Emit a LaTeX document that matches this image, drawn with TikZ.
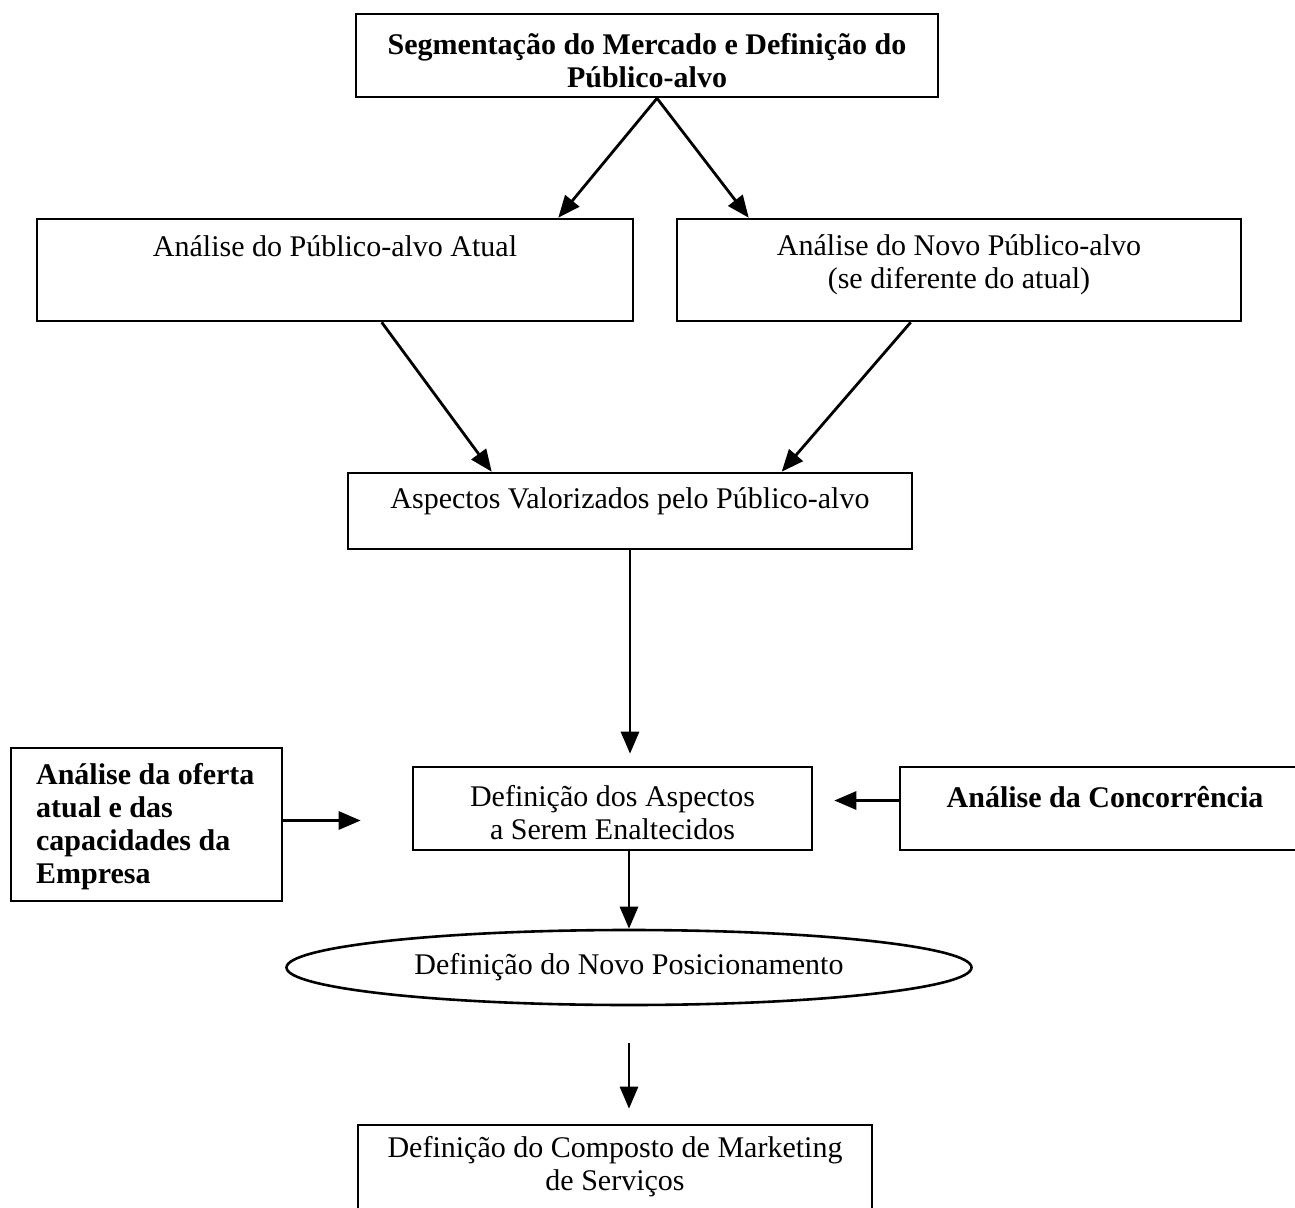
\documentclass[tikz,border=0pt]{standalone}
\usepackage{fontspec}
\setmainfont{Liberation Serif}
\usetikzlibrary{arrows.meta,calc,shapes.geometric}
\begin{document}
\begin{tikzpicture}[x=0.5pt,y=-0.5pt,
  frame/.style={draw, line width=1.3pt, inner sep=0pt},
  lbl/.style={align=center, inner sep=0pt, font=\fontsize{15}{16.5}\selectfont},
  blbl/.style={align=center, inner sep=0pt, font=\fontsize{15}{16.5}\selectfont\bfseries},
  link/.style={line width=1.4pt, -{Triangle[length=11pt,width=9pt]}}]
\clip (0,0) rectangle (1295,1208);
\fill[white] (0,0) rectangle (1295,1208);

% top box
\node[frame, minimum width=291pt, minimum height=41.5pt] (T) at (647,55.5) {};
\node[blbl] (Tt) at ($(T.center)+(0,5)$)
  {Segmentação do Mercado e Definição do\\Público-alvo};

% current and new target audience
\node[frame, minimum width=298pt, minimum height=51pt] (A) at (335,270) {};
\node[lbl] (At) at ($(A.north)+(0,29)$) {Análise do Público-alvo Atual};
\node[frame, minimum width=282pt, minimum height=51pt] (B) at (959,270) {};
\node[lbl] (Bt) at ($(B.north)+(0,47)$) {Análise do Novo Público-alvo\\(se diferente do atual)};

% valued aspects
\node[frame, minimum width=282pt, minimum height=38pt] (C) at (630,511) {};
\node[lbl] (Ct) at ($(C.north)+(0,30)$) {Aspectos Valorizados pelo Público-alvo};

% aspects to highlight, with its two inputs
\node[frame, minimum width=199.5pt, minimum height=41.5pt] (D) at (612.5,808.5) {};
\node[lbl] (Dt) at ($(D.center)+(0,4)$) {Definição dos Aspectos\\a Serem Enaltecidos};
\node[frame, minimum width=135.5pt, minimum height=76.5pt] (E) at (146.5,824.5) {};
\node[blbl, align=left, anchor=west] (Et) at ($(E.west)+(26,2)$)
  {Análise da oferta\\atual e das\\capacidades da\\Empresa};
\node[frame, minimum width=205pt, minimum height=41.5pt] (F) at (1105,808.5) {};
\node[blbl] (Ft) at ($(F.center)+(0,-11)$) {Análise da Concorrência};

% new positioning
\node[ellipse, frame, lbl, minimum width=342.5pt, minimum height=37.5pt] (N) at (629,967.5)
  {Definição do Novo Posicionamento};

% services marketing mix
\node[frame, minimum width=257pt, minimum height=67.5pt] (G) at (615,1192.5) {};
\node[lbl] (Gt) at ($(G.north)+(0,43)$) {Definição do Composto de Marketing\\de Serviços};

% connectors
\coordinate (ts) at ($(T.south)+(10,0)$);
\draw[link] (ts) -- ($(A.north east)+(-76,0)$);
\draw[link] (ts) -- ($(B.north west)+(73,0)$);
\draw[link] ($(A.south west)+(346,0)$) -- ($(C.north west)+(145,0)$);
\draw[link] ($(B.south west)+(235,0)$) -- ($(C.north west)+(435,0)$);
\draw[link, shorten >=6pt] (C.south) -- (C.south |- D.north);
\coordinate (ew) at ($(E.east)+(0,-4)$);
\draw[link, shorten >=25.5pt] (ew) -- (ew -| D.west);
\coordinate (fw) at ($(F.west)+(0,-8)$);
\draw[link, shorten >=10.5pt] (fw) -- (fw -| D.east);
\draw[link] (D.south -| N.north) -- (N.north);
\draw[link, shorten <=18.5pt, shorten >=7.5pt] (N.south) -- (N.south |- G.north);
\end{tikzpicture}
\end{document}
